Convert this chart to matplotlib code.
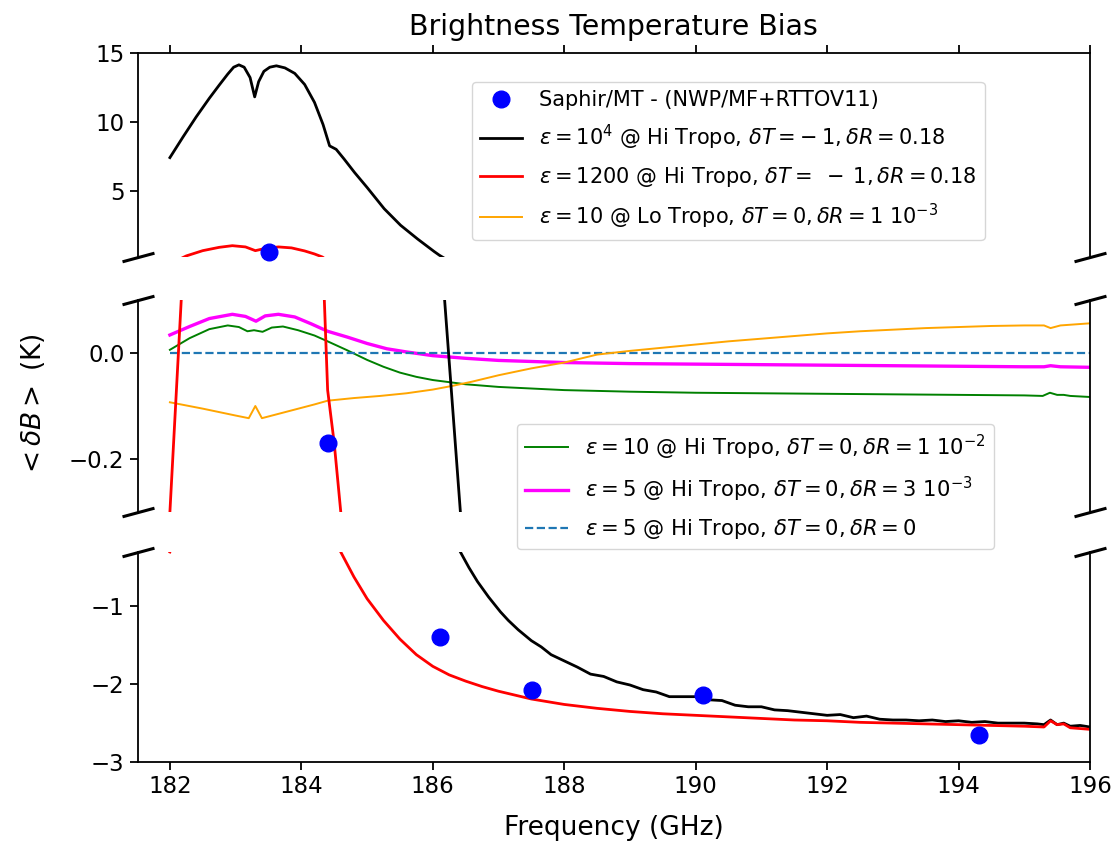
import matplotlib
matplotlib.use("Agg")
import matplotlib.pyplot as plt

# ---------------- data ----------------
saphir_f = [183.51, 184.41, 186.11, 187.51, 190.11, 194.31]
saphir_b = [0.55, -0.17, -1.39, -2.08, -2.14, -2.65]

black_f = [182.0, 182.2, 182.4, 182.6, 182.75, 182.88, 182.97, 183.05, 183.13, 183.22,
           183.29, 183.35, 183.43, 183.52, 183.62, 183.75, 183.9, 184.05, 184.2, 184.33,
           184.43, 184.53, 184.65, 184.81, 185.0, 185.26, 185.51, 185.77, 186.02, 186.1,
           186.18, 186.42, 186.55, 186.68, 186.85,
           187.03, 187.15, 187.3, 187.5, 187.65, 187.8, 188.0, 188.2, 188.4, 188.6,
           188.8, 189.0, 189.2, 189.4, 189.6, 189.8, 190.0, 190.2, 190.4, 190.6,
           190.8, 191.0, 191.2, 191.4, 191.6, 191.8, 192.0, 192.2, 192.4, 192.6,
           192.8, 193.0, 193.2, 193.4, 193.6, 193.8, 194.0, 194.2, 194.4, 194.6,
           194.8, 195.0, 195.2, 195.3, 195.4, 195.5, 195.6, 195.7, 195.85, 196.0]
black_b = [7.4, 8.9, 10.35, 11.7, 12.65, 13.45, 13.95, 14.12, 13.95, 13.2,
           11.8, 12.9, 13.65, 13.95, 14.05, 13.9, 13.5, 12.7, 11.4, 9.8,
           8.25, 8.0, 7.3, 6.32, 5.24, 3.7, 2.5, 1.5, 0.6, 0.33,
           0.10, -0.30, -0.50, -0.68, -0.88,
           -1.07, -1.18, -1.30, -1.44, -1.52, -1.62, -1.70, -1.78, -1.87, -1.90,
           -1.97, -2.01, -2.07, -2.10, -2.16, -2.16, -2.16, -2.20, -2.21, -2.27,
           -2.29, -2.29, -2.33, -2.34, -2.36, -2.38, -2.40, -2.39, -2.43, -2.41,
           -2.45, -2.46, -2.46, -2.47, -2.46, -2.48, -2.47, -2.49, -2.48, -2.50,
           -2.50, -2.50, -2.51, -2.52, -2.46, -2.52, -2.50, -2.54, -2.53, -2.55]

red_f = [182.0, 182.25, 182.5, 182.75, 182.95, 183.15, 183.3, 183.45, 183.65, 183.85,
         184.05, 184.2, 184.32, 184.4, 184.5, 184.6, 184.8, 185.0, 185.25, 185.5,
         185.75, 186.0, 186.25, 186.5, 186.75, 187.0, 187.5, 188.0, 188.5, 189.0,
         189.5, 190.0, 190.5, 191.0, 191.5, 192.0, 192.5, 193.0, 193.5, 194.0,
         194.5, 195.0, 195.3, 195.4, 195.5, 195.6, 195.7, 196.0]
red_b = [-0.30, 0.28, 0.66, 0.90, 1.02, 0.93, 0.66, 0.82, 0.93, 0.86,
         0.64, 0.42, 0.20, -0.07, -0.17, -0.30, -0.62, -0.90, -1.18, -1.42,
         -1.62, -1.77, -1.88, -1.96, -2.03, -2.09, -2.19, -2.26, -2.31, -2.35,
         -2.38, -2.40, -2.42, -2.44, -2.46, -2.47, -2.49, -2.50, -2.51, -2.52,
         -2.53, -2.54, -2.55, -2.47, -2.52, -2.51, -2.56, -2.58]

orange_f = [182.0, 182.5, 183.0, 183.2, 183.3, 183.4, 183.8, 184.2, 184.4, 184.8,
            185.2, 185.6, 186.0, 186.3, 186.6, 187.0, 187.5, 188.0, 188.5, 189.0,
            189.5, 190.0, 190.5, 191.0, 191.5, 192.0, 192.5, 193.0, 193.5, 194.0,
            194.5, 195.0, 195.3, 195.4, 195.55, 196.0]
orange_b = [-0.093, -0.105, -0.118, -0.123, -0.100, -0.123, -0.110, -0.097, -0.090, -0.085,
            -0.081, -0.076, -0.069, -0.062, -0.054, -0.042, -0.029, -0.018, -0.003, 0.004,
            0.010, 0.016, 0.022, 0.027, 0.032, 0.037, 0.041, 0.044, 0.047, 0.049,
            0.051, 0.052, 0.052, 0.047, 0.052, 0.056]

green_f = [182.0, 182.3, 182.6, 182.88, 183.05, 183.18, 183.28, 183.41, 183.55, 183.72,
           183.95, 184.2, 184.4, 184.7, 185.0, 185.25, 185.5, 185.75, 186.0, 186.5,
           187.0, 187.5, 188.0, 189.0, 190.0, 191.0, 192.0, 193.0, 194.0, 195.0,
           195.28, 195.39, 195.5, 195.6, 195.7, 196.0]
green_b = [0.006, 0.028, 0.045, 0.052, 0.049, 0.041, 0.043, 0.040, 0.048, 0.050,
           0.043, 0.033, 0.022, 0.005, -0.013, -0.026, -0.037, -0.045, -0.051, -0.059,
           -0.064, -0.067, -0.070, -0.073, -0.075, -0.076, -0.077, -0.078, -0.079, -0.080,
           -0.081, -0.075, -0.079, -0.079, -0.081, -0.083]

magenta_f = [182.0, 182.3, 182.6, 182.95, 183.15, 183.31, 183.45, 183.65, 183.9, 184.15,
             184.4, 184.7, 185.0, 185.3, 185.6, 186.0, 186.5, 187.0, 188.0, 189.0,
             190.0, 191.0, 192.0, 193.0, 194.0, 195.0, 195.3, 195.4, 195.55, 196.0]
magenta_b = [0.034, 0.050, 0.065, 0.073, 0.069, 0.060, 0.070, 0.073, 0.068, 0.055,
             0.041, 0.030, 0.018, 0.008, 0.002, -0.005, -0.010, -0.014, -0.018, -0.020,
             -0.021, -0.022, -0.023, -0.024, -0.025, -0.026, -0.026, -0.024, -0.026, -0.027]

zero_f = [182.0, 196.0]
zero_b = [0.0, 0.0]

labels = {
    "saphir": "Saphir/MT - (NWP/MF+RTTOV11)",
    "black": r"$\epsilon = 10^4$ @ Hi Tropo, $\delta T = -\:1, \delta R = 0.18$",
    "red": r"$\epsilon = 1200$ @ Hi Tropo, $\delta T =\ -\:1, \delta R = 0.18$",
    "orange": r"$\epsilon = 10$ @ Lo Tropo, $\delta T = 0, \delta R = 1\ 10^{-3}$",
    "green": r"$\epsilon = 10$ @ Hi Tropo, $\delta T = 0, \delta R = 1\ 10^{-2}$",
    "magenta": r"$\epsilon = 5$ @ Hi Tropo, $\delta T = 0, \delta R = 3\ 10^{-3}$",
    "zero": r"$\epsilon = 5$ @ Hi Tropo, $\delta T = 0, \delta R = 0$",
}

ylims = [(0.2, 15), (-0.3, 0.1), (-3, -0.3)]

# ---------------- figure ----------------
W, H = 1116, 844
fig = plt.figure(figsize=(W / 100, H / 100), dpi=100)
L_px, R_px = 137.7, 1090


def pos(top_px, bot_px):
    return [L_px / W, 1 - bot_px / H, (R_px - L_px) / W, (bot_px - top_px) / H]


ax1 = fig.add_axes(pos(52.7, 257))
ax2 = fig.add_axes(pos(300, 512))
ax3 = fig.add_axes(pos(552, 762))
axes = [ax1, ax2, ax3]

handles = {}
for ax, (lo, hi) in zip(axes, ylims):
    handles["green"], = ax.plot(green_f, green_b, color="green", lw=1.4)
    handles["magenta"], = ax.plot(magenta_f, magenta_b, color="magenta", lw=2.4)
    handles["zero"], = ax.plot(zero_f, zero_b, color="#1f77b4", lw=1.6, ls="--")
    handles["orange"], = ax.plot(orange_f, orange_b, color="orange", lw=1.4)
    handles["black"], = ax.plot(black_f, black_b, color="black", lw=2.0)
    handles["red"], = ax.plot(red_f, red_b, color="red", lw=2.0)
    # observation markers: drawn where their centre falls inside the panel
    fs = [f for f, b in zip(saphir_f, saphir_b) if lo <= b <= hi]
    bs = [b for b in saphir_b if lo <= b <= hi]
    handles["saphir"], = ax.plot(fs, bs, "o", color="blue", ms=12, ls="none",
                                 clip_on=False, zorder=3)
    ax.set_xlim(181.51, 196)
    ax.set_ylim(lo, hi)
    for s in ax.spines.values():
        s.set_linewidth(1.3)
    ax.tick_params(labelsize=16.5, width=1.3, length=6)

ax1.set_yticks([5, 10, 15])
ax2.set_yticks([-0.2, 0.0])
ax2.set_yticklabels(["\u22120.2", "0.0"])
ax3.set_yticks([-3, -2, -1])
ax3.set_xticks([182, 184, 186, 188, 190, 192, 194, 196])

ax1.spines["bottom"].set_visible(False)
ax1.xaxis.tick_top()
ax1.tick_params(labeltop=False)
ax2.spines["top"].set_visible(False)
ax2.spines["bottom"].set_visible(False)
ax2.tick_params(bottom=False, labelbottom=False)
ax3.spines["top"].set_visible(False)
ax3.xaxis.tick_bottom()

# break marks
d = 0.27
kw = dict(marker=[(-1, -d), (1, d)], markersize=23, linestyle="none",
          color="k", mec="k", mew=2.2, clip_on=False)
ax1.plot([0, 1], [0, 0], transform=ax1.transAxes, **kw)
ax2.plot([0, 1, 0, 1], [0, 0, 1, 1], transform=ax2.transAxes, **kw)
ax3.plot([0, 1], [1, 1], transform=ax3.transAxes, **kw)

ax1.set_title("Brightness Temperature Bias", fontsize=20.4, pad=13)
ax3.set_xlabel("Frequency (GHz)", fontsize=19, labelpad=12)
ax2.set_ylabel(r"$<\delta B>$ (K)", fontsize=19)
ax2.yaxis.set_label_coords(-0.095, 0.5)

leg1 = ax1.legend([handles[k] for k in ["saphir", "black", "red", "orange"]],
                  [labels[k] for k in ["saphir", "black", "red", "orange"]],
                  loc="upper left", bbox_to_anchor=(472 / W, 1 - 82 / H),
                  bbox_transform=fig.transFigure, fontsize=15, borderaxespad=0,
                  labelspacing=0.62)
leg2 = ax2.legend([handles[k] for k in ["green", "magenta", "zero"]],
                  [labels[k] for k in ["green", "magenta", "zero"]],
                  loc="upper left", bbox_to_anchor=(517 / W, 1 - 424 / H),
                  bbox_transform=fig.transFigure, fontsize=15.2, borderaxespad=0,
                  labelspacing=0.62)
leg1.set_zorder(10)
leg2.set_zorder(10)
ax1.set_zorder(4)
ax2.set_zorder(5)
ax2.patch.set_alpha(0)

fig.savefig("out.png", dpi=100)
